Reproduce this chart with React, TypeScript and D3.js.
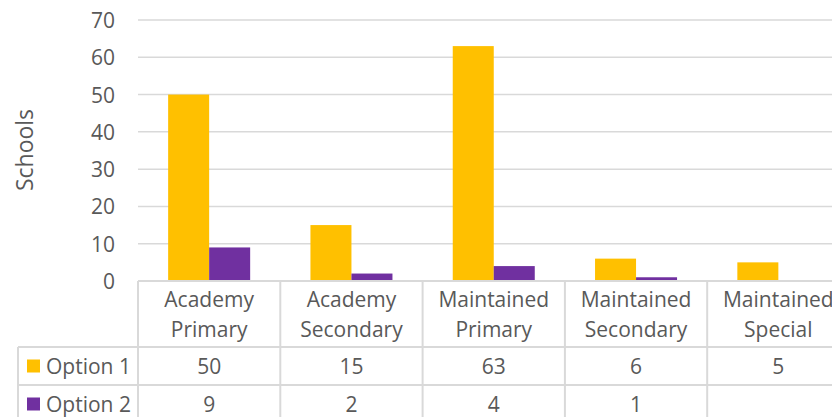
import React from "react";
import * as d3 from "d3";

const categories: string[][] = [
  ["Academy", "Primary"],
  ["Academy", "Secondary"],
  ["Maintained", "Primary"],
  ["Maintained", "Secondary"],
  ["Maintained", "Special"],
];
const seriesNames = ["Option 1", "Option 2"];
const option1: (number | null)[] = [50, 15, 63, 6, 5];
const option2: (number | null)[] = [9, 2, 4, 1, null];
const yTicks = [0, 10, 20, 30, 40, 50, 60, 70];
const colors = ["#FFC000", "#7030A0"];

const W = 832;
const H = 417;
const FONT = "'Open Sans', sans-serif";
const TEXT = "#595959";
const GRID = "#D9D9D9";
const FS = 21;

export default function App() {
  const keys = categories.map((c) => c.join(" "));
  const x = d3.scaleBand<string>().domain(keys).range([138, 138 + 142.3 * 5]).padding(0);
  const xs = d3
    .scaleBand<string>()
    .domain(seriesNames)
    .range([0, x.bandwidth()])
    .paddingInner(0)
    .paddingOuter(0.735);
  const y = d3.scaleLinear().domain([0, 70]).range([281, 20]);
  const series = [option1, option2];

  const tableLeft = 18;
  const headerBottom = 347;
  const row1Bottom = 385;
  const row2Bottom = 423;
  const rowMid = [(headerBottom + row1Bottom) / 2, (row1Bottom + row2Bottom) / 2];

  return (
    <svg
      width={W}
      height={H}
      style={{ position: "fixed", left: 0, top: 0, background: "#fff" }}
      fontFamily={FONT}
    >
      <rect x={0} y={0} width={W} height={H} fill="#fff" />
      {yTicks.map((t) => (
        <line key={t} x1={138} x2={W} y1={y(t)} y2={y(t)} stroke={GRID} strokeWidth={1.5} />
      ))}
      {yTicks.map((t) => (
        <text
          key={"l" + t}
          x={115}
          y={y(t)}
          textAnchor="end"
          dominantBaseline="central"
          fontSize={FS}
          fill={TEXT}
        >
          {t}
        </text>
      ))}
      <text
        transform={`translate(24,${150}) rotate(-90)`}
        textAnchor="middle"
        dominantBaseline="central"
        fontSize={23}
        fill={TEXT}
      >
        Schools
      </text>
      {series.map((vals, si) =>
        vals.map((v, ci) =>
          v == null ? null : (
            <rect
              key={si + "-" + ci}
              x={(x(keys[ci]) as number) + (xs(seriesNames[si]) as number)}
              y={y(v)}
              width={xs.bandwidth()}
              height={y(0) - y(v)}
              fill={colors[si]}
            />
          )
        )
      )}
      <line x1={138} x2={W} y1={y(0)} y2={y(0)} stroke={GRID} strokeWidth={2} />
      <line x1={tableLeft} x2={W} y1={headerBottom} y2={headerBottom} stroke={GRID} strokeWidth={2} />
      <line x1={tableLeft} x2={W} y1={row1Bottom} y2={row1Bottom} stroke={GRID} strokeWidth={2} />
      <line x1={tableLeft} x2={tableLeft} y1={headerBottom} y2={H} stroke={GRID} strokeWidth={2} />
      {keys.map((k) => (
        <line
          key={"v" + k}
          x1={x(k) as number}
          x2={x(k) as number}
          y1={y(0)}
          y2={H}
          stroke={GRID}
          strokeWidth={2}
        />
      ))}
      {categories.map((c, ci) => (
        <g key={"h" + ci}>
          {c.map((line, li) => (
            <text
              key={li}
              x={(x(keys[ci]) as number) + x.bandwidth() / 2}
              y={299 + li * 30}
              textAnchor="middle"
              dominantBaseline="central"
              fontSize={FS}
              fill={TEXT}
            >
              {line}
            </text>
          ))}
        </g>
      ))}
      {seriesNames.map((s, si) => (
        <g key={"r" + si}>
          <rect x={27} y={rowMid[si] - 6.5} width={13} height={13} fill={colors[si]} />
          <text x={46} y={rowMid[si]} dominantBaseline="central" fontSize={FS} fill={TEXT}>
            {s}
          </text>
          {series[si].map((v, ci) =>
            v == null ? null : (
              <text
                key={ci}
                x={(x(keys[ci]) as number) + x.bandwidth() / 2}
                y={rowMid[si]}
                textAnchor="middle"
                dominantBaseline="central"
                fontSize={FS}
                fill={TEXT}
              >
                {v}
              </text>
            )
          )}
        </g>
      ))}
    </svg>
  );
}
